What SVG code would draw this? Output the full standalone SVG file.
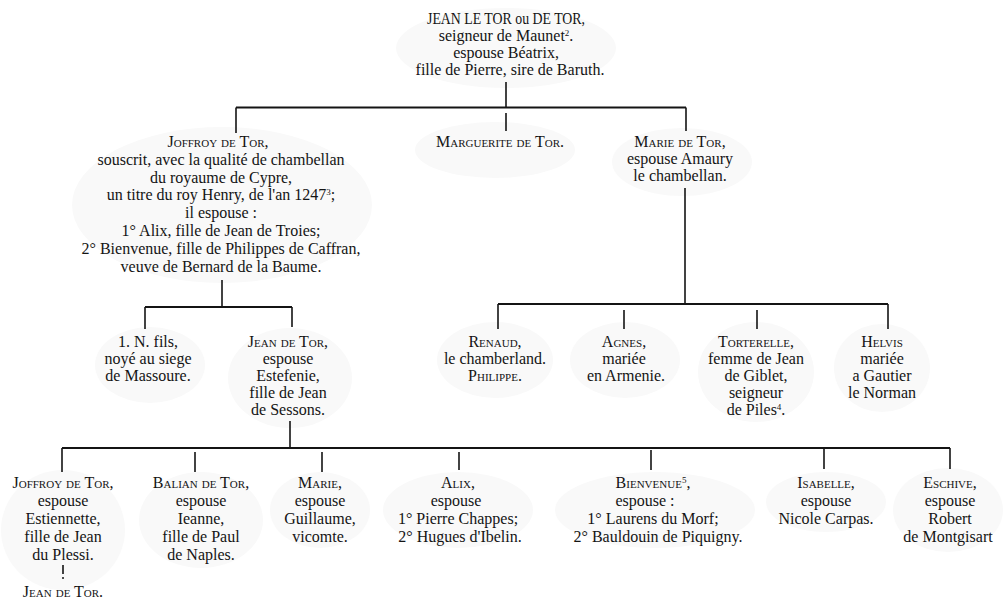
<svg xmlns="http://www.w3.org/2000/svg" width="1006" height="601" viewBox="0 0 1006 601">
  <style>
    .t { font-family: "Liberation Serif", "DejaVu Serif", serif; font-size: 16px; fill: #141414; text-anchor: middle; }
    .sc { font-variant: small-caps; }
    .sup { font-size: 9px; }
    .ln { stroke: #141414; stroke-width: 1.6; fill: none; stroke-linecap: butt; }
    .bar { stroke-width: 2; }
    .ghost { fill: #f9f9f9; }
  </style>
  <rect width="1006" height="601" fill="#ffffff"/>

  <!-- faint paper shading behind the text blocks -->
  <g id="shading">
    <ellipse class="ghost" cx="506" cy="48" rx="110" ry="40"/>
    <ellipse class="ghost" cx="222" cy="205" rx="150" ry="78"/>
    <ellipse class="ghost" cx="495" cy="150" rx="80" ry="28"/>
    <ellipse class="ghost" cx="682" cy="162" rx="70" ry="34"/>
    <ellipse class="ghost" cx="150" cy="365" rx="55" ry="38"/>
    <ellipse class="ghost" cx="290" cy="378" rx="62" ry="50"/>
    <ellipse class="ghost" cx="495" cy="360" rx="58" ry="38"/>
    <ellipse class="ghost" cx="625" cy="360" rx="55" ry="38"/>
    <ellipse class="ghost" cx="756" cy="372" rx="58" ry="50"/>
    <ellipse class="ghost" cx="882" cy="368" rx="48" ry="44"/>
    <ellipse class="ghost" cx="63" cy="530" rx="62" ry="60"/>
    <ellipse class="ghost" cx="201" cy="520" rx="62" ry="48"/>
    <ellipse class="ghost" cx="320" cy="510" rx="50" ry="38"/>
    <ellipse class="ghost" cx="458" cy="510" rx="75" ry="38"/>
    <ellipse class="ghost" cx="655" cy="510" rx="100" ry="38"/>
    <ellipse class="ghost" cx="826" cy="502" rx="60" ry="30"/>
    <ellipse class="ghost" cx="948" cy="510" rx="55" ry="42"/>
  </g>

  <!-- family lines -->
  <g id="connectors">
    <path class="ln" d="M506 82 V107.5"/>
    <path class="ln bar" d="M236 107.5 H686"/>
    <path class="ln" d="M236 107.5 V133 M506 113 V131 M686 107.5 V131"/>

    <path class="ln" d="M222 280 V307"/>
    <path class="ln bar" d="M145 307 H292"/>
    <path class="ln" d="M145 307 V329 M292 307 V327"/>

    <path class="ln" d="M685 188 V304"/>
    <path class="ln bar" d="M498 304 H888"/>
    <path class="ln" d="M498 304 V329 M624 310 V329 M757 310 V329 M888 304 V329"/>

    <path class="ln" d="M290 421 V448"/>
    <path class="ln bar" d="M62 448 H950"/>
    <path class="ln" d="M62 448 V472 M195 452 V472 M322 452 V472 M459 452 V470 M651 450 V470 M824 448 V469 M950 448 V469"/>

    <path class="ln" d="M63 565 V574" stroke-width="1.2"/>
    <circle cx="63" cy="578" r="1" fill="#141414"/>
  </g>

  <g id="jean-le-tor">
    <text class="t" x="506" y="24" textLength="158" lengthAdjust="spacingAndGlyphs">JEAN LE TOR ou DE TOR,</text>
    <text class="t" x="506" y="41">seigneur de Maunet<tspan class="sup" dy="-5">2</tspan><tspan dy="5">.</tspan></text>
    <text class="t" x="506" y="58">espouse Béatrix,</text>
    <text class="t" x="510" y="75">fille de Pierre, sire de Baruth.</text>
  </g>

  <g id="joffroy">
    <text class="t sc" x="218" y="147">Joffroy de Tor,</text>
    <text class="t" x="221" y="165">souscrit, avec la qualité de chambellan</text>
    <text class="t" x="221" y="183">du royaume de Cypre,</text>
    <text class="t" x="221" y="200">un titre du roy Henry, de l'an 1247<tspan class="sup" dy="-5">3</tspan><tspan dy="5">;</tspan></text>
    <text class="t" x="221" y="218">il espouse :</text>
    <text class="t" x="221" y="236">1° Alix, fille de Jean de Troies;</text>
    <text class="t" x="221" y="254">2° Bienvenue, fille de Philippes de Caffran,</text>
    <text class="t" x="221" y="272">veuve de Bernard de la Baume.</text>
  </g>

  <g id="marguerite">
    <text class="t sc" x="500" y="147">Marguerite de Tor.</text>
  </g>

  <g id="marie-de-tor">
    <text class="t sc" x="680" y="147">Marie de Tor,</text>
    <text class="t" x="680" y="164">espouse Amaury</text>
    <text class="t" x="680" y="181">le chambellan.</text>
  </g>

  <g id="n-fils">
    <text class="t" x="148" y="347">1. N. fils,</text>
    <text class="t" x="148" y="364">noyé au siege</text>
    <text class="t" x="148" y="381">de Massoure.</text>
  </g>

  <g id="jean-de-tor">
    <text class="t sc" x="288" y="347">Jean de Tor,</text>
    <text class="t" x="288" y="364">espouse</text>
    <text class="t" x="288" y="381">Estefenie,</text>
    <text class="t" x="288" y="398">fille de Jean</text>
    <text class="t" x="288" y="415">de Sessons.</text>
  </g>

  <g id="renaud">
    <text class="t sc" x="495" y="347">Renaud,</text>
    <text class="t" x="495" y="364">le chamberland.</text>
    <text class="t sc" x="495" y="381">Philippe.</text>
  </g>

  <g id="agnes">
    <text class="t sc" x="624" y="347">Agnes,</text>
    <text class="t" x="624" y="364">mariée</text>
    <text class="t" x="626" y="381">en Armenie.</text>
  </g>

  <g id="torterelle">
    <text class="t sc" x="756" y="347">Torterelle,</text>
    <text class="t" x="756" y="364">femme de Jean</text>
    <text class="t" x="756" y="381">de Giblet,</text>
    <text class="t" x="756" y="398">seigneur</text>
    <text class="t" x="756" y="415">de Piles<tspan class="sup" dy="-5">4</tspan><tspan dy="5">.</tspan></text>
  </g>

  <g id="helvis">
    <text class="t sc" x="882" y="347">Helvis</text>
    <text class="t" x="882" y="364">mariée</text>
    <text class="t" x="882" y="381">a Gautier</text>
    <text class="t" x="882" y="398">le Norman</text>
  </g>

  <g id="joffroy-fils">
    <text class="t sc" x="63" y="488">Joffroy de Tor,</text>
    <text class="t" x="63" y="506">espouse</text>
    <text class="t" x="63" y="524">Estiennette,</text>
    <text class="t" x="63" y="542">fille de Jean</text>
    <text class="t" x="63" y="560">du Plessi.</text>
    <text class="t sc" x="63" y="597">Jean de Tor.</text>
  </g>

  <g id="balian">
    <text class="t sc" x="201" y="488">Balian de Tor,</text>
    <text class="t" x="201" y="506">espouse</text>
    <text class="t" x="201" y="524">Ieanne,</text>
    <text class="t" x="201" y="542">fille de Paul</text>
    <text class="t" x="201" y="560">de Naples.</text>
  </g>

  <g id="marie">
    <text class="t sc" x="320" y="488">Marie,</text>
    <text class="t" x="320" y="506">espouse</text>
    <text class="t" x="320" y="524">Guillaume,</text>
    <text class="t" x="320" y="542">vicomte.</text>
  </g>

  <g id="alix">
    <text class="t sc" x="458" y="488">Alix,</text>
    <text class="t" x="456" y="506">espouse</text>
    <text class="t" x="458" y="524">1° Pierre Chappes;</text>
    <text class="t" x="460" y="542">2° Hugues d'Ibelin.</text>
  </g>

  <g id="bienvenue">
    <text class="t" x="653" y="488"><tspan class="sc">Bienvenue</tspan><tspan class="sup" dy="-5">5</tspan><tspan dy="5">,</tspan></text>
    <text class="t" x="645" y="506">espouse :</text>
    <text class="t" x="653" y="524">1° Laurens du Morf;</text>
    <text class="t" x="658" y="542">2° Bauldouin de Piquigny.</text>
  </g>

  <g id="isabelle">
    <text class="t sc" x="826" y="488">Isabelle,</text>
    <text class="t" x="826" y="506">espouse</text>
    <text class="t" x="826" y="524">Nicole Carpas.</text>
  </g>

  <g id="eschive">
    <text class="t sc" x="950" y="488">Eschive,</text>
    <text class="t" x="950" y="506">espouse</text>
    <text class="t" x="950" y="524">Robert</text>
    <text class="t" x="948" y="542">de Montgisart</text>
  </g>
</svg>
